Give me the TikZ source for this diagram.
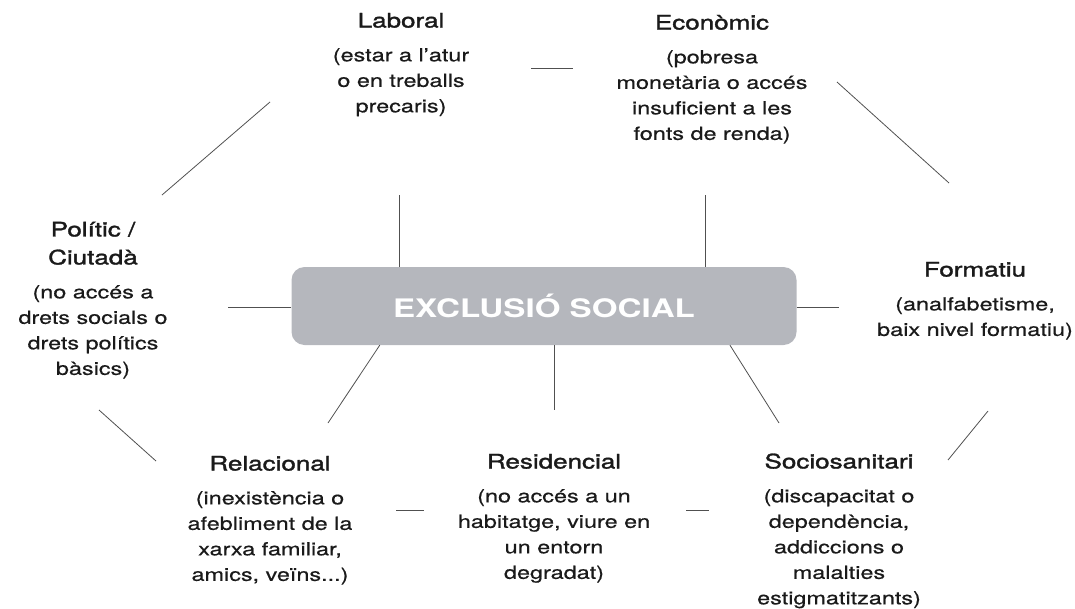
\documentclass[tikz,border=0pt]{standalone}
\usepackage{fontspec}
\setmainfont{TeX Gyre Heros}
\newfontfamily\headfont[FakeBold=1.4]{TeX Gyre Heros}
\newfontfamily\descfont[FakeBold=0.5]{TeX Gyre Heros}
\usepackage{tikz}
\usetikzlibrary{positioning,calc}
\definecolor{box_gray}{HTML}{B5B7BD}
\definecolor{line_gray}{HTML}{505050}
\definecolor{text_black}{HTML}{1A1A1A}

\begin{document}
\begin{tikzpicture}[x=1pt, y=-1pt,
    heading/.style={anchor=south, align=center, inner sep=0pt, xscale=1.3, text=text_black, font=\headfont\fontsize{20}{28}\selectfont},
    desc/.style={align=center, inner sep=0pt, xscale=1.3, text=text_black, font=\descfont\fontsize{18}{25.5}\selectfont},
    link/.style={line_gray, line width=0.8pt}]
    \useasboundingbox (0,0) rectangle (1075,608);

    \node[fill=box_gray, rounded corners=13pt, minimum width=505pt, minimum height=78pt, text=white, font=\bfseries\fontsize{25.5}{30}\selectfont] (box) at (544,306) {\scalebox{1.3}[1]{EXCLUSIÓ SOCIAL}};

    % headings and descriptions
    \node[heading] (lab) at (401,28) {Laboral};
    \node[desc, below=20pt of lab] (labtxt) {(estar a l’atur\\o en treballs\\precaris)};
    \node[heading] (eco) at (712,30) {Econòmic};
    \node[desc, below=20pt of eco] (ecotxt) {(pobresa\\monetària o accés\\insuficient a les\\fonts de renda)};
    \node[heading] (pol) at (93,265) {Polític /\\Ciutadà};
    \node[desc, below=20pt of pol] (poltxt) {(no accés a\\drets socials o\\drets polítics\\bàsics)};
    \node[heading] (for) at (975,277) {Formatiu};
    \node[desc, below=20pt of for] (fortxt) {(analfabetisme,\\baix nivel formatiu)};
    \node[heading] (rel) at (270,471) {Relacional};
    \node[desc, below=20pt of rel] (reltxt) {(inexistència o\\afebliment de la\\xarxa familiar,\\amics, veïns...)};
    \node[heading] (res) at (554,469) {Residencial};
    \node[desc, below=20pt of res] (restxt) {(no accés a un\\habitatge, viure en\\un entorn\\degradat)};
    \node[heading] (soc) at (839,469) {Sociosanitari};
    \node[desc, below=20pt of soc] (soctxt) {(discapacitat o\\dependència,\\addiccions o\\malalties\\estigmatitzants)};

    % free ends of the spokes
    \coordinate (labin) at (399,195);
    \coordinate (ecoin) at (705,195);
    \coordinate (polin) at (228,307);
    \coordinate (forin) at (839,307);
    \coordinate (relin) at (328,423);
    \coordinate (resin) at (554,410);
    \coordinate (socin) at (779,423);
    \draw[link] (box.north -| labin) -- (labin);
    \draw[link] (box.north -| ecoin) -- (ecoin);
    \draw[link] (box.west |- polin) -- (polin);
    \draw[link] (box.east |- forin) -- (forin);
    \draw[link] ($(box.south west)!0.175!(box.south east)$) -- (relin);
    \draw[link] (box.south -| resin) -- (resin);
    \draw[link] ($(box.south west)!0.868!(box.south east)$) -- (socin);

    % ring between the areas
    \coordinate (le1) at (531,68);   \coordinate (le2) at (573,68);
    \coordinate (lp1) at (270,102);  \coordinate (lp2) at (162,195);
    \coordinate (ef1) at (837,82);   \coordinate (ef2) at (949,183);
    \coordinate (fs1) at (988,411);  \coordinate (fs2) at (948,460);
    \coordinate (pr1) at (99,410);   \coordinate (pr2) at (156,461);
    \coordinate (rr1) at (396,510);  \coordinate (rr2) at (424,510);
    \coordinate (rs1) at (686,510);  \coordinate (rs2) at (709,510);
    \draw[link] (le1) -- (le2);
    \draw[link] (lp1) -- (lp2);
    \draw[link] (ef1) -- (ef2);
    \draw[link] (fs1) -- (fs2);
    \draw[link] (pr1) -- (pr2);
    \draw[link] (rr1) -- (rr2);
    \draw[link] (rs1) -- (rs2);
\end{tikzpicture}
\end{document}
